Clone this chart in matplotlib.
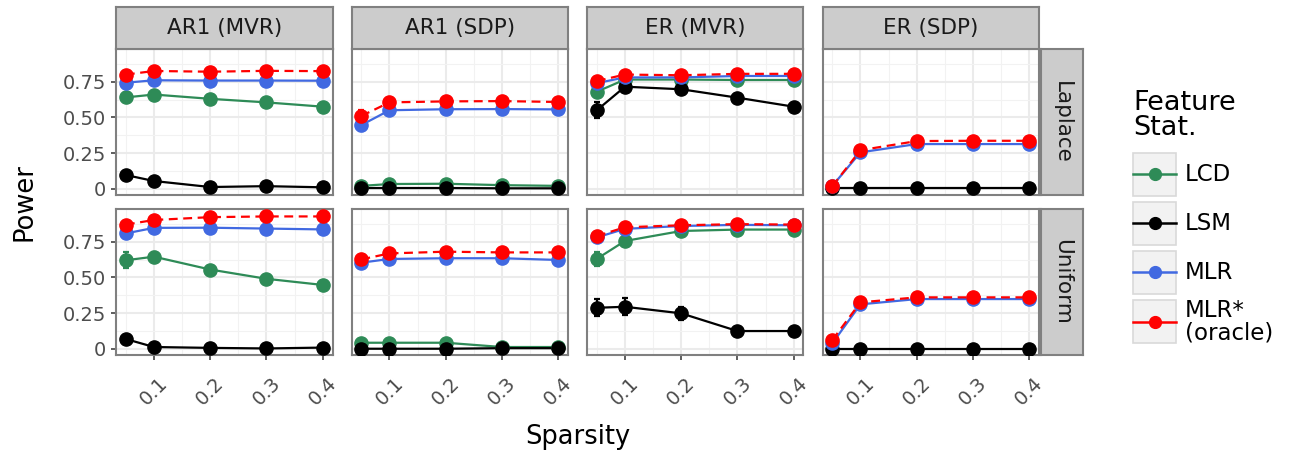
import numpy as np
import matplotlib
matplotlib.use("Agg")
import matplotlib.pyplot as plt
from matplotlib.patches import Rectangle

# data: rows = noise (Laplace, Uniform), cols = design, 5 sparsity levels each
sparsity = [0.05, 0.1, 0.2, 0.3, 0.4]
col_labels = ["AR1 (MVR)", "AR1 (SDP)", "ER (MVR)", "ER (SDP)"]
row_labels = ["Laplace", "Uniform"]
series_names = ["LCD", "LSM", "MLR", "MLR*\n(oracle)"]

lcd = [
    [[0.64, 0.66, 0.63, 0.605, 0.575],
     [0.02, 0.033, 0.035, 0.025, 0.02],
     [0.68, 0.765, 0.765, 0.762, 0.762],
     [np.nan] * 5],
    [[0.62, 0.645, 0.555, 0.49, 0.447],
     [0.042, 0.042, 0.042, 0.012, 0.012],
     [0.63, 0.755, 0.825, 0.835, 0.835],
     [np.nan] * 5],
]
lsm = [
    [[0.096, 0.054, 0.012, 0.018, 0.01],
     [0.005, 0.005, 0.005, 0.003, 0.003],
     [0.55, 0.715, 0.697, 0.638, 0.575],
     [0.002, 0.002, 0.002, 0.002, 0.002]],
    [[0.068, 0.012, 0.006, 0.002, 0.008],
     [0.0, 0.0, 0.0, 0.004, 0.004],
     [0.287, 0.294, 0.248, 0.124, 0.124],
     [0.0, 0.0, 0.0, 0.0, 0.0]],
]
mlr = [
    [[0.743, 0.76, 0.758, 0.758, 0.757],
     [0.446, 0.55, 0.557, 0.558, 0.556],
     [0.74, 0.78, 0.78, 0.79, 0.79],
     [0.02, 0.255, 0.313, 0.313, 0.313]],
    [[0.808, 0.847, 0.848, 0.842, 0.836],
     [0.603, 0.629, 0.634, 0.634, 0.622],
     [0.78, 0.84, 0.86, 0.868, 0.865],
     [0.038, 0.311, 0.348, 0.348, 0.348]],
]
mlr_oracle = [
    [[0.80, 0.825, 0.82, 0.826, 0.824],
     [0.51, 0.605, 0.612, 0.614, 0.608],
     [0.755, 0.80, 0.795, 0.805, 0.805],
     [0.018, 0.27, 0.334, 0.336, 0.336]],
    [[0.87, 0.902, 0.922, 0.927, 0.927],
     [0.626, 0.668, 0.68, 0.675, 0.675],
     [0.79, 0.851, 0.865, 0.873, 0.87],
     [0.061, 0.325, 0.36, 0.36, 0.36]],
]
# standard errors (most are hidden behind the markers)
lcd_se = [
    [[0.02, 0.015, 0.01, 0.01, 0.01], [0.01] * 5, [0.02, 0.01, 0.01, 0.01, 0.01], [np.nan] * 5],
    [[0.055, 0.03, 0.01, 0.01, 0.01], [0.01] * 5, [0.05, 0.03, 0.01, 0.01, 0.01], [np.nan] * 5],
]
lsm_se = [
    [[0.015, 0.01, 0.005, 0.005, 0.005], [0.005] * 5, [0.055, 0.015, 0.01, 0.01, 0.01], [0.0] * 5],
    [[0.015, 0.005, 0.005, 0.005, 0.005], [0.005] * 5, [0.06, 0.06, 0.045, 0.01, 0.01], [0.0] * 5],
]
mlr_se = [
    [[0.01] * 5, [0.04, 0.01, 0.01, 0.01, 0.01], [0.015, 0.01, 0.01, 0.01, 0.01], [0.01] * 5],
    [[0.01] * 5, [0.01] * 5, [0.01] * 5, [0.01] * 5],
]
mlr_oracle_se = [
    [[0.01] * 5, [0.04, 0.01, 0.01, 0.01, 0.01], [0.015, 0.01, 0.01, 0.01, 0.01], [0.01] * 5],
    [[0.01] * 5, [0.01] * 5, [0.01] * 5, [0.01] * 5],
]

colors = ["#2E8B57", "#000000", "#4169E1", "#FF0000"]
styles = ["-", "-", "-", (0, (4, 2.5))]
all_vals = [lcd, lsm, mlr, mlr_oracle]
all_se = [lcd_se, lsm_se, mlr_se, mlr_oracle_se]

W, H = 1291, 458
fig = plt.figure(figsize=(W / 100, H / 100), dpi=100)


def rect(x0, y0, x1, y1):
    # pixel box (top-left origin) -> figure fraction
    return [x0 / W, 1 - y1 / H, (x1 - x0) / W, (y1 - y0) / H]


col_x = [116, 351.5, 587, 822.5]
panel_w = 216.5
row_y = [49.3, 209.3]
panel_h = 146
border = "#808080"

for r in range(2):
    for c in range(4):
        x0, y0 = col_x[c], row_y[r]
        ax = fig.add_axes(rect(x0, y0, x0 + panel_w, y0 + panel_h))
        ax.set_xlim(0.0325, 0.4175)
        ax.set_ylim(-0.046, 0.977)
        ax.set_xticks([0.1, 0.2, 0.3, 0.4])
        ax.set_xticks([0.05, 0.15, 0.25, 0.35], minor=True)
        ax.set_yticks([0, 0.25, 0.5, 0.75])
        ax.set_yticks([0.125, 0.375, 0.625, 0.875], minor=True)
        ax.grid(True, which="major", color="#EBEBEB", lw=1.5)
        ax.grid(True, which="minor", color="#F2F2F2", lw=0.8)
        ax.set_axisbelow(True)
        for s in ax.spines.values():
            s.set_color(border)
            s.set_linewidth(1.5)
        ax.tick_params(which="minor", length=0)
        ax.tick_params(which="major", length=3.5, width=1.1, color="#333333",
                       labelsize=14, labelcolor="#4D4D4D")
        if c == 0:
            ax.set_yticklabels(["0", "0.25", "0.50", "0.75"])
        else:
            ax.tick_params(axis="y", length=0, labelleft=False)
        if r == 1:
            ax.set_xticklabels(["0.1", "0.2", "0.3", "0.4"], rotation=45,
                               ha="center", va="top")
            ax.tick_params(axis="x", pad=10)
        else:
            ax.tick_params(axis="x", length=0, labelbottom=False)

        # lines first, then points and error bars
        for k in range(4):
            ax.plot(sparsity, all_vals[k][r][c], color=colors[k],
                    ls=styles[k], lw=1.6, zorder=2)
        for k in range(4):
            ax.errorbar(sparsity, all_vals[k][r][c], yerr=all_se[k][r][c],
                        fmt="o", color=colors[k], ms=9.5, elinewidth=1.6,
                        capsize=2.5, capthick=1.6, zorder=3 + k)

        # top strip
        if r == 0:
            sax = fig.add_axes(rect(x0, 7.3, x0 + panel_w, y0))
            sax.set_facecolor("#CCCCCC")
            sax.set_xticks([])
            sax.set_yticks([])
            for s in sax.spines.values():
                s.set_color(border)
                s.set_linewidth(1.5)
            sax.text(0.5, 0.5, col_labels[c], ha="center", va="center",
                     fontsize=15.5, color="#1A1A1A", transform=sax.transAxes)
        # right strip
        if c == 3:
            sax = fig.add_axes(rect(1041, y0, 1083, y0 + panel_h))
            sax.set_facecolor("#CCCCCC")
            sax.set_xticks([])
            sax.set_yticks([])
            for s in sax.spines.values():
                s.set_color(border)
                s.set_linewidth(1.5)
            sax.text(0.5, 0.5, row_labels[r], ha="center", va="center",
                     rotation=-90, fontsize=15.5, color="#1A1A1A",
                     transform=sax.transAxes)

fig.text(578 / W, 1 - 437 / H, "Sparsity", ha="center", va="center", fontsize=18.5)
fig.text(25 / W, 1 - 202 / H, "Power", ha="center", va="center",
         rotation=90, fontsize=18.5)

# legend drawn by hand in pixel coordinates
lax = fig.add_axes(rect(1120, 80, 1291, 350))
lax.set_xlim(1120, 1291)
lax.set_ylim(350, 80)
lax.axis("off")
lax.text(1133, 90, "Feature\nStat.", ha="left", va="top", fontsize=19.5,
         linespacing=0.95)
key_tops = [152.7, 201.7, 250.7, 300]
for k, top in enumerate(key_tops):
    lax.add_patch(Rectangle((1133, top), 43, 43, facecolor="#F2F2F2",
                            edgecolor="#D9D9D9", lw=1.2))
    cy = top + 21.5
    lax.plot([1133, 1176], [cy, cy], color=colors[k], lw=1.8)
    lax.plot([1154.5], [cy], "o", color=colors[k], ms=8.5)
    lax.text(1185, cy, series_names[k], ha="left", va="center", fontsize=16.5,
             linespacing=0.95)

fig.savefig("out.png", dpi=100)
